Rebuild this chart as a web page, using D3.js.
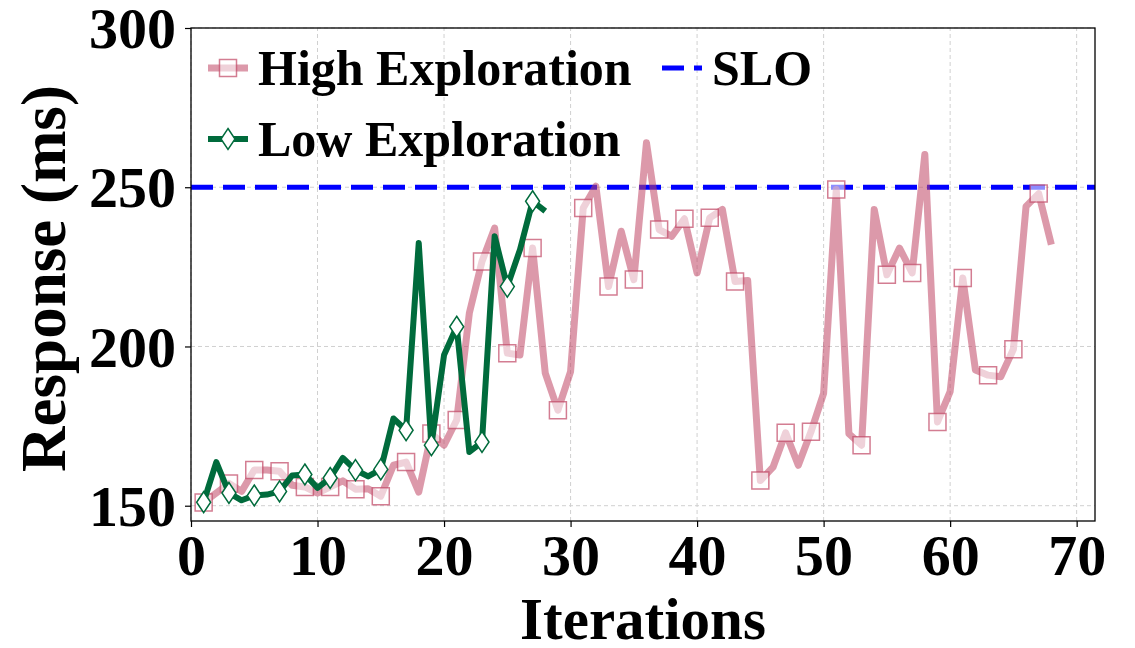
<!DOCTYPE html>
<html>
<head>
<meta charset="utf-8">
<script src="https://cdn.jsdelivr.net/npm/d3@7/dist/d3.min.js"></script>
<style>
  body { margin: 0; background: #fff; }
  svg { display: block; font-family: 'Liberation Serif', 'Times New Roman', serif; font-weight: bold; }
</style>
</head>
<body>
<div id="chart"></div>
<script>
// values (response time in ms per iteration, starting at 1)
const highExploration = [
  151.0, 154.0, 157.0, 154.5, 161.2, 161.2, 160.8, 156.4, 155.9, 154.0,
  155.9, 157.8, 155.2, 155.3, 153.0, 162.7, 163.7, 154.3, 172.7, 169.0,
  176.9, 210.5, 226.7, 237.2, 197.9, 197.3, 230.9, 191.6, 180.0, 192.1,
  243.5, 250.3, 218.8, 236.2, 221.0, 264.0, 236.7, 234.6, 240.1, 223.1,
  240.4, 243.0, 220.4, 220.7, 157.9, 162.1, 172.9, 162.7, 173.2, 185.3,
  249.3, 172.6, 169.0, 243.0, 222.5, 230.9, 223.1, 260.3, 176.3, 185.8,
  221.5, 192.6, 191.0, 190.5, 199.1, 244.0, 248.0, 232.0,
];
const lowExploration = [
  151.1, 163.7, 154.0, 151.7, 153.2, 153.5, 154.5, 159.5, 159.8, 155.6,
  158.7, 165.0, 161.2, 159.2, 161.4, 177.4, 173.7, 232.5, 169.0, 197.3,
  206.2, 166.9, 170.0, 234.6, 218.8, 230.4, 245.6, 242.5,
];
const sloValue = 250;
const xTicks = [0, 10, 20, 30, 40, 50, 60, 70];
const yTicks = [150, 200, 250, 300];
const xDomain = [0, 71.45];
const yDomain = [145.2, 300];

const width = 1135;
const height = 648;
const margin = {
  top: 28,
  right: 40,
  bottom: 127,
  left: 191,
};
const pink = 'rgb(192,70,100)';
const pinkAlpha = 0.55;
const green = '#006b3c';
const markEvery = 2;

const svg = d3.select('#chart')
  .append('svg')
  .attr('width', width)
  .attr('height', height);

const x = d3.scaleLinear()
  .domain(xDomain)
  .range([margin.left, width - margin.right]);
const y = d3.scaleLinear()
  .domain(yDomain)
  .range([height - margin.bottom, margin.top]);

const toPoints = vals => vals.map((v, i) => ({ it: i + 1, v }));
const highPts = toPoints(highExploration);
const lowPts = toPoints(lowExploration);

// grid
const grid = svg.append('g')
  .attr('stroke', '#d0d0d0')
  .attr('stroke-width', 1)
  .attr('stroke-dasharray', '4,3');
grid.selectAll('.gx')
  .data(xTicks)
  .enter()
  .append('line')
    .attr('x1', d => x(d))
    .attr('x2', d => x(d))
    .attr('y1', y.range()[0])
    .attr('y2', y.range()[1]);
grid.selectAll('.gy')
  .data(yTicks)
  .enter()
  .append('line')
    .attr('x1', x.range()[0])
    .attr('x2', x.range()[1])
    .attr('y1', d => y(d))
    .attr('y2', d => y(d));

// SLO line
svg.append('line')
  .attr('x1', x.range()[0])
  .attr('x2', x.range()[1])
  .attr('y1', y(sloValue))
  .attr('y2', y(sloValue))
  .attr('stroke', '#0000ff')
  .attr('stroke-width', 5)
  .attr('stroke-dasharray', '22,10');

const line = d3.line()
  .x(d => x(d.it))
  .y(d => y(d.v));

const square = d3.symbol().type(d3.symbolSquare).size(17 * 17);
const diamondPath = (w, h) => `M0,${-h / 2}L${w / 2},0L0,${h / 2}L${-w / 2},0Z`;

// high exploration
svg.append('path')
  .datum(highPts)
  .attr('d', line)
  .attr('fill', 'none')
  .attr('stroke', pink)
  .attr('stroke-opacity', pinkAlpha)
  .attr('stroke-width', 7)
  .attr('stroke-linejoin', 'round');
svg.selectAll('.sq')
  .data(highPts.filter((d, i) => i % markEvery === 0))
  .enter()
  .append('path')
    .attr('transform', d => `translate(${x(d.it)},${y(d.v)})`)
    .attr('d', square)
    .attr('fill', '#fff')
    .attr('fill-opacity', pinkAlpha)
    .attr('stroke', pink)
    .attr('stroke-opacity', pinkAlpha + 0.15)
    .attr('stroke-width', 1.5);

// low exploration
svg.append('path')
  .datum(lowPts)
  .attr('d', line)
  .attr('fill', 'none')
  .attr('stroke', green)
  .attr('stroke-width', 6)
  .attr('stroke-linejoin', 'round');
svg.selectAll('.dm')
  .data(lowPts.filter((d, i) => i % markEvery === 0))
  .enter()
  .append('path')
    .attr('transform', d => `translate(${x(d.it)},${y(d.v)})`)
    .attr('d', diamondPath(14, 21))
    .attr('fill', '#fff')
    .attr('stroke', green)
    .attr('stroke-width', 1.5);

// frame
svg.append('rect')
  .attr('x', x.range()[0])
  .attr('y', y.range()[1])
  .attr('width', x.range()[1] - x.range()[0])
  .attr('height', y.range()[0] - y.range()[1])
  .attr('fill', 'none')
  .attr('stroke', '#000')
  .attr('stroke-width', 1.3);

// axes
const xAxis = svg.append('g')
  .attr('transform', `translate(0,${y.range()[0]})`)
  .call(d3.axisBottom(x).tickValues(xTicks).tickSize(6).tickPadding(7));
const yAxis = svg.append('g')
  .attr('transform', `translate(${x.range()[0]},0)`)
  .call(d3.axisLeft(y).tickValues(yTicks).tickSize(6).tickPadding(9));
[xAxis, yAxis].forEach(g => {
  g.select('.domain').remove();
  g.selectAll('.tick line').attr('stroke', '#000').attr('stroke-width', 1.2);
  g.selectAll('.tick text')
    .attr('fill', '#000')
    .style('font-family', 'Liberation Serif, serif')
    .style('font-weight', 'bold')
    .style('font-size', '58px');
});
yAxis.selectAll('.tick text').attr('dy', '0.34em');

svg.append('text')
  .attr('x', (x.range()[0] + x.range()[1]) / 2)
  .attr('y', 639)
  .attr('text-anchor', 'middle')
  .style('font-size', '59px')
  .text('Iterations');
svg.append('text')
  .attr('transform', `translate(65,${(y.range()[0] + y.range()[1]) / 2 + 4}) rotate(-90)`)
  .attr('text-anchor', 'middle')
  .style('font-size', '63px')
  .text('Response (ms)');

// legend
const legendItems = [
  { label: 'High Exploration', kind: 'high', col: 0, row: 0 },
  { label: 'SLO', kind: 'slo', col: 1, row: 0 },
  { label: 'Low Exploration', kind: 'low', col: 0, row: 1 },
];
const legendCols = [208, 662];
const legendRows = [68, 139];
const handleLen = 40;
const legend = svg.append('g');
legendItems.forEach(item => {
  const g = legend.append('g')
    .attr('transform', `translate(${legendCols[item.col]},${legendRows[item.row]})`);
  if (item.kind === 'high') {
    g.append('line')
      .attr('x2', handleLen)
      .attr('stroke', pink)
      .attr('stroke-opacity', pinkAlpha)
      .attr('stroke-width', 7);
    g.append('path')
      .attr('transform', `translate(${handleLen / 2},0)`)
      .attr('d', square)
      .attr('fill', '#fff')
      .attr('fill-opacity', pinkAlpha)
      .attr('stroke', pink)
      .attr('stroke-opacity', pinkAlpha + 0.15)
      .attr('stroke-width', 1.5);
  } else if (item.kind === 'low') {
    g.append('line')
      .attr('x2', handleLen)
      .attr('stroke', green)
      .attr('stroke-width', 6);
    g.append('path')
      .attr('transform', `translate(${handleLen / 2},0)`)
      .attr('d', diamondPath(14, 21))
      .attr('fill', '#fff')
      .attr('stroke', green)
      .attr('stroke-width', 1.5);
  } else {
    g.append('line')
      .attr('x2', handleLen)
      .attr('stroke', '#0000ff')
      .attr('stroke-width', 5)
      .attr('stroke-dasharray', '22,10');
  }
  g.append('text')
    .attr('x', handleLen + 10)
    .attr('y', 17)
    .style('font-size', '50px')
    .text(item.label);
});
</script>
</body>
</html>
